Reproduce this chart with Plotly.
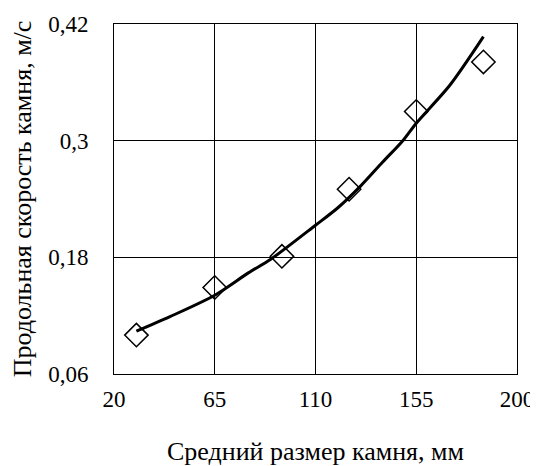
import plotly.graph_objects as go

# measured points
size_mm = [30, 65, 95, 125, 155, 185]
speed = [0.100, 0.149, 0.181, 0.250, 0.330, 0.381]

# trend curve
trend_x = [30, 45, 65, 80, 90, 110, 120, 130, 140, 149, 155, 170, 185]
trend_y = [0.104, 0.119, 0.141, 0.164, 0.178, 0.213, 0.231, 0.253, 0.278, 0.300, 0.318, 0.357, 0.407]

x_ticks = [20, 65, 110, 155, 200]
y_ticks = [0.06, 0.18, 0.3, 0.42]
y_labels = ["0,06", "0,18", "0,3", "0,42"]

FONT = "Liberation Serif, DejaVu Serif, serif"
TICK_FS = 23
TITLE_FS = 26

fig = go.Figure()
fig.add_trace(go.Scatter(
    x=size_mm, y=speed, mode="markers",
    marker=dict(symbol="diamond-open", size=18, color="black", line=dict(width=1.5, color="black")),
    showlegend=False,
))
fig.add_trace(go.Scatter(
    x=trend_x, y=trend_y, mode="lines",
    line=dict(color="black", width=3, shape="spline", smoothing=0.8),
    showlegend=False,
))

fig.update_layout(
    width=530, height=458,
    autosize=False,
    margin=dict(l=106, r=21, t=16, b=92, autoexpand=False),
    paper_bgcolor="white", plot_bgcolor="white",
    font=dict(family=FONT, size=TICK_FS, color="black"),
    xaxis=dict(
        range=[20, 200], tickvals=x_ticks, ticktext=[str(v) for v in x_ticks],
        showgrid=True, gridcolor="black", gridwidth=1,
        showline=True, linecolor="black", linewidth=1, mirror=True,
        ticks="outside", ticklen=4, tickcolor="rgba(0,0,0,0)",
        tickfont=dict(family=FONT, size=TICK_FS),
        ticklabeloverflow="allow",
        zeroline=False, automargin=False,
        title=dict(text="Средний размер камня, мм", font=dict(family=FONT, size=TITLE_FS), standoff=34),
    ),
    yaxis=dict(
        range=[0.06, 0.42], tickvals=y_ticks, ticktext=y_labels,
        showgrid=True, gridcolor="black", gridwidth=1,
        showline=True, linecolor="black", linewidth=1, mirror=True,
        ticks="outside", ticklen=20, tickcolor="rgba(0,0,0,0)",
        tickfont=dict(family=FONT, size=TICK_FS),
        ticklabeloverflow="allow",
        zeroline=False, automargin=False,
        title=dict(text="Продольная скорость камня, м/с", font=dict(family=FONT, size=TITLE_FS), standoff=12),
    ),
)

fig.write_html("out.html")
